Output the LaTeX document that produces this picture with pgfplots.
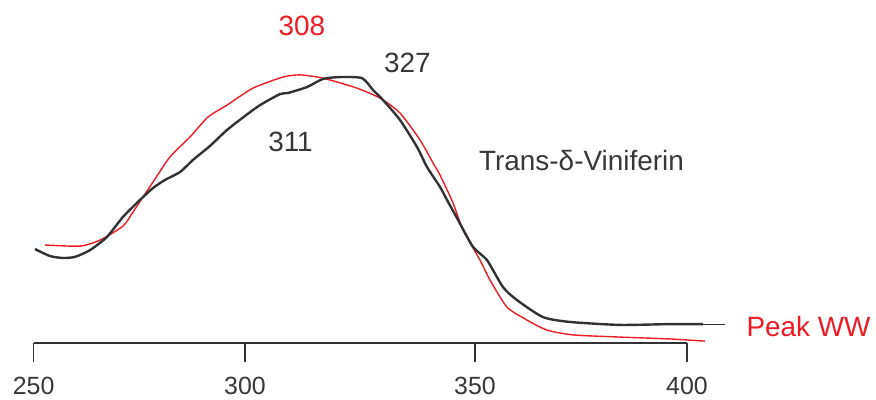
\documentclass[border=0pt]{standalone}
\usepackage{pgfplots}
\pgfplotsset{compat=1.18}
\usepackage{fontspec}
\setmainfont{Liberation Sans}
\definecolor{myred}{RGB}{236,28,36}
\definecolor{mydark}{RGB}{50,50,52}
\definecolor{mytxt}{RGB}{55,55,58}
\begin{document}
\begin{tikzpicture}
\begin{axis}[
  x=4.356bp, y=270bp,
  xmin=250, xmax=400, ymin=0, ymax=1.2,
  axis x line=bottom, axis y line=none,
  ytick=\empty,
  xtick={250,298.53,351.33,400},
  xticklabels={250,300,350,400},
  tick align=outside, major tick length=19bp,
  x axis line style={-, draw=mydark, line width=1.1bp},
  xtick style={draw=mydark, line width=1.1bp},
  xticklabel style={font=\fontsize{25}{27}\selectfont, text=mytxt, anchor=base, inner sep=0pt, yshift=-32.7bp},
  /pgf/number format/assume math mode=true,
  clip=false,
]
\addplot[myred, line width=1.4bp, smooth, tension=0.4] coordinates {
(252.62,0.363) (260.65,0.359) (265.24,0.381) (270.52,0.433) (272.82,0.485)
(275.11,0.541) (277.41,0.596) (281.31,0.689) (285.90,0.763) (290.04,0.837)
(294.40,0.881) (300.37,0.944) (307.25,0.985) (311.16,0.993) (316.44,0.981)
(324.24,0.944) (329.52,0.907) (334.11,0.852) (338.71,0.752) (341.69,0.667)
(343.30,0.622) (346.28,0.519) (348.58,0.419) (352.48,0.307) (354.78,0.233)
(358.68,0.133) (363.27,0.085) (367.86,0.048) (373.83,0.030) (384.62,0.022)
(396.10,0.015) (404.13,0.007)
};
\addplot[mydark, line width=2.4bp, smooth, tension=0.4] coordinates {
(250.32,0.348) (253.77,0.322) (256.75,0.315) (259.50,0.319) (262.95,0.344)
(266.85,0.393) (270.52,0.467) (274.43,0.530) (277.41,0.574) (280.17,0.604)
(283.61,0.633) (286.59,0.678) (290.50,0.730) (294.40,0.789) (298.53,0.841)
(301.97,0.881) (306.57,0.922) (308.40,0.926) (312.76,0.948) (316.44,0.978)
(320.34,0.985) (325.39,0.981) (327.92,0.937) (330.21,0.900) (334.11,0.826)
(338.02,0.726) (340.31,0.652) (343.30,0.578) (344.90,0.530) (347.20,0.463)
(350.87,0.356) (354.09,0.307) (357.76,0.207) (360.97,0.159) (366.94,0.096)
(373.14,0.078) (384.62,0.067) (396.10,0.070) (403.67,0.070)
};
\addplot[mydark, line width=0.9bp] coordinates {(403.67,0.070) (408.73,0.070)};
\node[text=myred, anchor=base, font=\fontsize{28}{30}\selectfont] at (axis cs:311.6,1.1407) {308};
\node[text=mytxt, anchor=base, font=\fontsize{28}{30}\selectfont] at (axis cs:335.8,1.0037) {327};
\node[text=mytxt, anchor=base, font=\fontsize{28}{30}\selectfont] at (axis cs:308.98,0.7111) {311};
\node[text=mytxt, anchor=base, font=\fontsize{28}{30}\selectfont] at (axis cs:375.78,0.6407) {Trans-δ-Viniferin};
\node[text=myred, anchor=base, font=\fontsize{28}{30}\selectfont] at (axis cs:427.9,0.0259) {Peak WW};
\coordinate (bl) at (axis cs:242.287,-0.2074);
\coordinate (tr) at (axis cs:443.39,1.2704);
\end{axis}
\pgfresetboundingbox
\path[use as bounding box] (bl) rectangle (tr);
\end{tikzpicture}
\end{document}
